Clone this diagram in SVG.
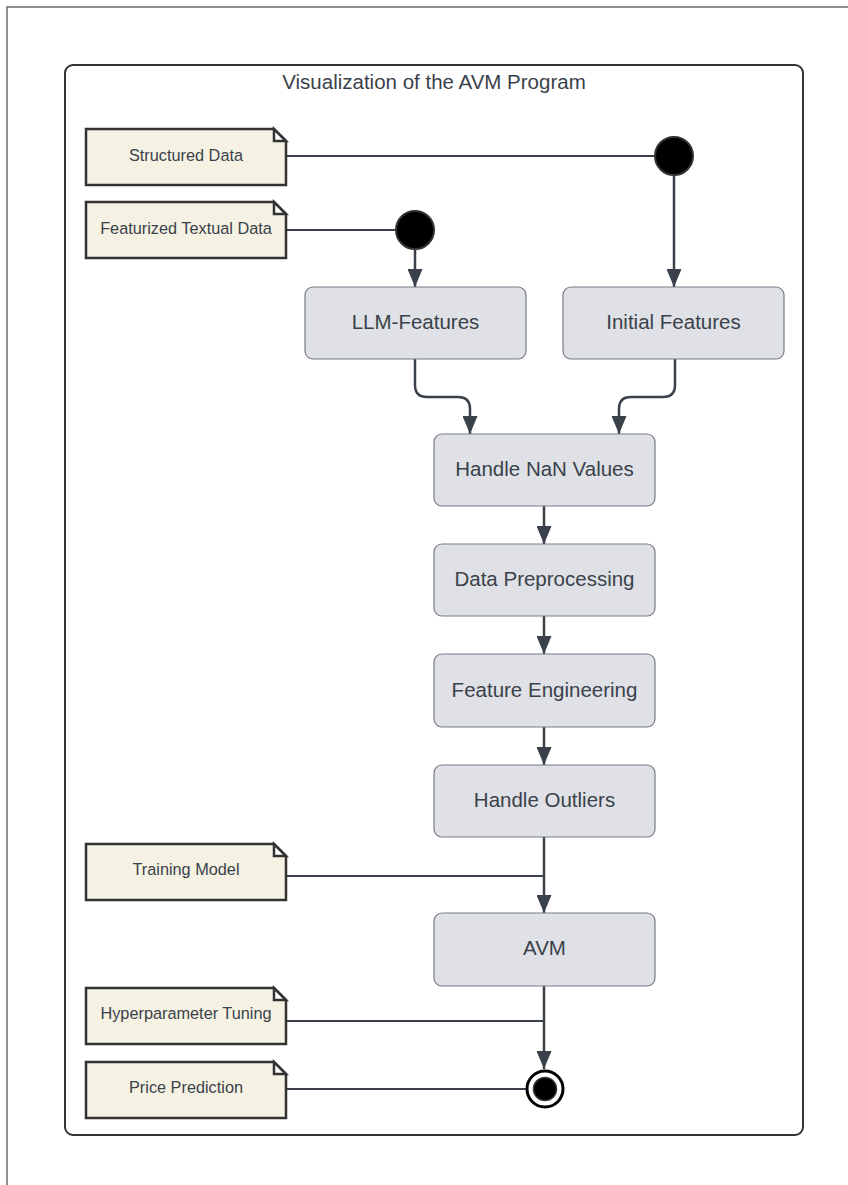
<svg xmlns="http://www.w3.org/2000/svg" width="848" height="1185" viewBox="0 0 848 1185">
  <defs>
    <marker id="arrow" viewBox="0 0 18 15" refX="18" refY="7.5" markerWidth="18" markerHeight="15" markerUnits="userSpaceOnUse" orient="auto">
      <path d="M0,0 L18,7.5 L0,15 Z" fill="#3a414a"/>
    </marker>
  </defs>
  <style>
    .page { fill: none; stroke: #6b6b6b; stroke-width: 1.5; }
    .frame { fill: #ffffff; stroke: #333333; stroke-width: 2; }
    .title { font-family: "Liberation Sans", Arial, sans-serif; font-size: 20.5px; fill: #3a414a; text-anchor: middle; dominant-baseline: central; }
    .note { fill: #f5f2e3; stroke: #333333; stroke-width: 2.5; stroke-linejoin: miter; }
    .fold { fill: #ffffff; stroke: #333333; stroke-width: 2.5; stroke-linejoin: miter; }
    .note-text { font-family: "Liberation Sans", Arial, sans-serif; font-size: 16.3px; fill: #3a414a; text-anchor: middle; dominant-baseline: central; }
    .action { fill: #dfe1e6; stroke: #777c85; stroke-width: 1.2; }
    .action-text { font-family: "Liberation Sans", Arial, sans-serif; font-size: 20.5px; fill: #3a414a; text-anchor: middle; dominant-baseline: central; }
    .flow { fill: none; stroke: #3a414a; stroke-width: 2.5; }
    .link { fill: none; stroke: #3a414a; stroke-width: 1.8; }
    .fork { fill: #000000; stroke: #333333; stroke-width: 2; }
  </style>

  <!-- page border -->
  <path class="page" d="M848,7 L7,7 L7,1185"/>

  <!-- activity frame -->
  <g id="frame">
    <rect class="frame" x="65" y="65" width="738" height="1070" rx="8"/>
    <text class="title" x="434" y="81">Visualization of the AVM Program</text>
  </g>

  <!-- connectors -->
  <g id="connectors">
    <line class="link" x1="287" y1="156" x2="655" y2="156"/>
    <line class="link" x1="287" y1="230" x2="396" y2="230"/>
    <line class="flow" x1="415" y1="249" x2="415" y2="287" marker-end="url(#arrow)"/>
    <line class="flow" x1="674" y1="175" x2="674" y2="287" marker-end="url(#arrow)"/>
    <path class="flow" d="M415,359 L415,385 Q415,397 427,397 L458,397 Q470,397 470,409 L470,434" marker-end="url(#arrow)"/>
    <path class="flow" d="M675,359 L675,385 Q675,397 663,397 L631,397 Q619,397 619,409 L619,434" marker-end="url(#arrow)"/>
    <line class="flow" x1="544" y1="506" x2="544" y2="544" marker-end="url(#arrow)"/>
    <line class="flow" x1="544" y1="616" x2="544" y2="654" marker-end="url(#arrow)"/>
    <line class="flow" x1="544" y1="727" x2="544" y2="765" marker-end="url(#arrow)"/>
    <line class="flow" x1="544" y1="837" x2="544" y2="913" marker-end="url(#arrow)"/>
    <line class="link" x1="287" y1="876" x2="544" y2="876"/>
    <line class="flow" x1="544" y1="986" x2="544" y2="1069" marker-end="url(#arrow)"/>
    <line class="link" x1="287" y1="1021" x2="544" y2="1021"/>
    <line class="link" x1="287" y1="1089" x2="526" y2="1089"/>
  </g>

  <!-- input notes -->
  <g id="note-structured">
    <path class="note" d="M86,129 L274,129 L286,141 L286,185 L86,185 Z"/>
    <path class="fold" d="M274,129 L274,141 L286,141 Z"/>
    <text class="note-text" x="186" y="155">Structured Data</text>
  </g>
  <g id="note-textual">
    <path class="note" d="M86,202 L274,202 L286,214 L286,258 L86,258 Z"/>
    <path class="fold" d="M274,202 L274,214 L286,214 Z"/>
    <text class="note-text" x="186" y="228">Featurized Textual Data</text>
  </g>

  <!-- fork points -->
  <g id="fork-structured">
    <circle class="fork" cx="674" cy="156" r="19"/>
  </g>
  <g id="fork-textual">
    <circle class="fork" cx="415" cy="230" r="19"/>
  </g>

  <!-- actions -->
  <g id="llm-features">
    <rect class="action" x="305" y="287" width="221" height="72" rx="8"/>
    <text class="action-text" x="415.5" y="321">LLM-Features</text>
  </g>
  <g id="initial-features">
    <rect class="action" x="563" y="287" width="221" height="72" rx="8"/>
    <text class="action-text" x="673.5" y="321">Initial Features</text>
  </g>
  <g id="handle-nan">
    <rect class="action" x="434" y="434" width="221" height="72" rx="8"/>
    <text class="action-text" x="544.5" y="468">Handle NaN Values</text>
  </g>
  <g id="data-preprocessing">
    <rect class="action" x="434" y="544" width="221" height="72" rx="8"/>
    <text class="action-text" x="544.5" y="578">Data Preprocessing</text>
  </g>
  <g id="feature-engineering">
    <rect class="action" x="434" y="654" width="221" height="73" rx="8"/>
    <text class="action-text" x="544.5" y="689">Feature Engineering</text>
  </g>
  <g id="handle-outliers">
    <rect class="action" x="434" y="765" width="221" height="72" rx="8"/>
    <text class="action-text" x="544.5" y="799">Handle Outliers</text>
  </g>
  <g id="avm">
    <rect class="action" x="434" y="913" width="221" height="73" rx="8"/>
    <text class="action-text" x="544.5" y="947">AVM</text>
  </g>

  <!-- side notes -->
  <g id="note-training">
    <path class="note" d="M86,844 L274,844 L286,856 L286,900 L86,900 Z"/>
    <path class="fold" d="M274,844 L274,856 L286,856 Z"/>
    <text class="note-text" x="186" y="869">Training Model</text>
  </g>
  <g id="note-hyperparameter">
    <path class="note" d="M86,988 L274,988 L286,1000 L286,1044 L86,1044 Z"/>
    <path class="fold" d="M274,988 L274,1000 L286,1000 Z"/>
    <text class="note-text" x="186" y="1013">Hyperparameter Tuning</text>
  </g>
  <g id="note-price">
    <path class="note" d="M86,1062 L274,1062 L286,1074 L286,1118 L86,1118 Z"/>
    <path class="fold" d="M274,1062 L274,1074 L286,1074 Z"/>
    <text class="note-text" x="186" y="1087">Price Prediction</text>
  </g>

  <!-- final node -->
  <g id="final">
    <circle cx="545" cy="1089" r="18" fill="#ffffff" stroke="#000000" stroke-width="3"/>
    <circle cx="545" cy="1089" r="11.5" fill="#000000" stroke="#333333" stroke-width="1.5"/>
  </g>
</svg>
